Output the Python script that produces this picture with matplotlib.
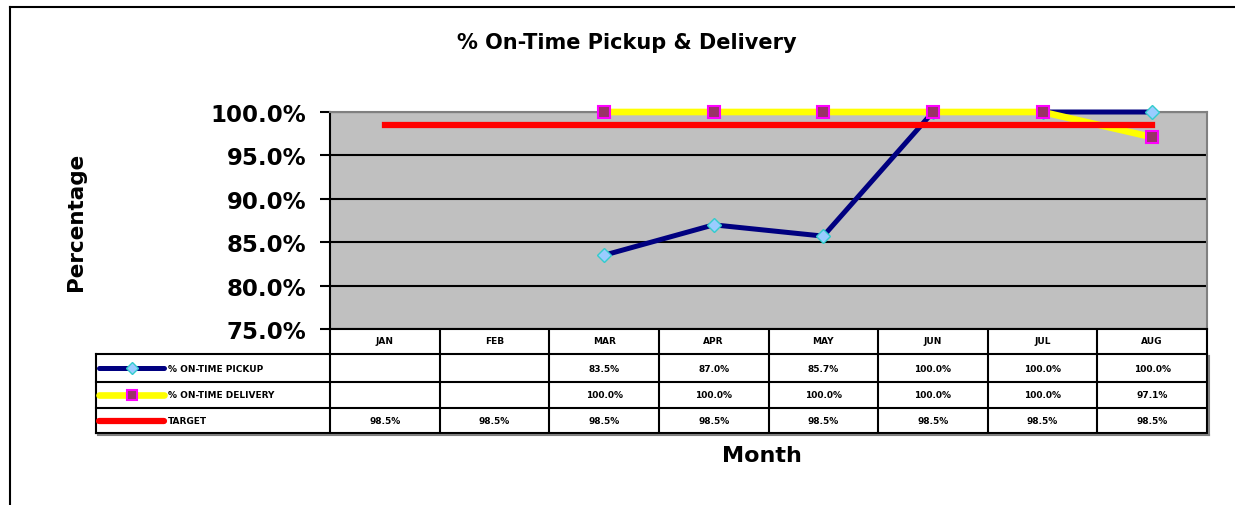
import matplotlib.pyplot as plt
from matplotlib.transforms import blended_transform_factory
import numpy as np

# ---------------------------------
# DATA
# ---------------------------------
months = ["JAN", "FEB", "MAR", "APR", "MAY", "JUN", "JUL", "AUG"]
pickup = [np.nan, np.nan, 83.5, 87.0, 85.7, 100.0, 100.0, 100.0]
delivery = [np.nan, np.nan, 100.0, 100.0, 100.0, 100.0, 100.0, 97.1]
target = [98.5, 98.5, 98.5, 98.5, 98.5, 98.5, 98.5, 98.5]
series_names = ["% ON-TIME PICKUP", "% ON-TIME DELIVERY", "TARGET"]

W, H = 1235, 506
fig = plt.figure(figsize=(W / 100, H / 100), dpi=100)

# overlay in pixel coords for the frame and the data table
ov = fig.add_axes([0, 0, 1, 1])
ov.set_xlim(0, W)
ov.set_ylim(H, 0)
ov.axis("off")

ax = fig.add_axes([330 / W, 1 - 330 / H, 877 / W, 217 / H])
ax.set_facecolor("#C0C0C0")

x = np.arange(len(months))
styles = [
    dict(color="#000080", lw=3.6, marker="D", ms=7, mfc="#99CCFF", mec="#33CCCC", mew=1, zorder=3),
    dict(color="#FFFF00", lw=4.8, marker="s", ms=8, mfc="#993366", mec="#FF00FF", mew=1.5, zorder=4),
    dict(color="#FF0000", lw=4.5, zorder=5, solid_capstyle="projecting"),
]
for vals, st in zip([pickup, delivery, target], styles):
    ax.plot(x, vals, clip_on=False, **st)

ax.set_xlim(-0.5, len(months) - 0.5)
ax.set_ylim(75, 100)
yt = np.arange(75, 100.1, 5)
ax.set_yticks(yt)
ax.set_yticklabels([f"{v:.1f}%" for v in yt], fontsize=16.5, fontweight="bold")
ax.set_xticks([])
ax.yaxis.grid(True, color="black", lw=1.5)
ax.set_axisbelow(True)
ax.tick_params(axis="y", length=7, width=1.5, pad=10)
for s in ["top", "right"]:
    ax.spines[s].set_color("#808080")
    ax.spines[s].set_linewidth(1.5)
for s in ["left", "bottom"]:
    ax.spines[s].set_linewidth(1.5)

# ---------------------------------
# DATA TABLE
# ---------------------------------
tr = blended_transform_factory(ax.transData, ov.transData)
right_px = ax.get_position().x1 * W
leg_left = 96
rows = [355, 383, 409, 434]
head_top = 330

for i in range(len(months) + 1):
    ov.plot([i - 0.5, i - 0.5], [head_top, rows[-1]], color="black", lw=1.5, transform=tr)
for i, m in enumerate(months):
    ov.text(i, 341, m, transform=tr, ha="center", va="center", fontsize=6.5, fontweight="bold")

for r in rows:
    ov.plot([leg_left, right_px], [r, r], color="black", lw=1.5)
ov.plot([leg_left, leg_left], [rows[0], rows[-1]], color="black", lw=1.5)
# shadow
ov.plot([leg_left + 2, right_px + 2], [rows[-1] + 2, rows[-1] + 2], color="#808080", lw=1.5)
ov.plot([right_px + 2, right_px + 2], [rows[0] + 2, rows[-1] + 2], color="#808080", lw=1.5)

for k, (name, vals, st) in enumerate(zip(series_names, [pickup, delivery, target], styles)):
    yc = (rows[k] + rows[k + 1]) / 2
    ov.plot([99, 164], [yc, yc], color=st["color"], lw=st["lw"], solid_capstyle="round")
    if "marker" in st:
        ov.plot([132], [yc], marker=st["marker"], ms=st["ms"] - 1, mfc=st["mfc"],
                mec=st["mec"], mew=st["mew"], ls="none")
    ov.text(168, yc, name, ha="left", va="center", fontsize=6.5, fontweight="bold")
    for i, v in enumerate(vals):
        if not np.isnan(v):
            ov.text(i, yc, f"{v:.1f}%", transform=tr, ha="center", va="center",
                    fontsize=6.5, fontweight="bold")

# outer frame
ov.plot([10, 10], [H, 8], color="black", lw=1.5)
ov.plot([10, W], [8, 8], color="black", lw=1.5)

ov.text(627, 43, "% On-Time Pickup & Delivery", ha="center", va="center",
        fontsize=15, fontweight="bold")
ov.text(76, 222, "Percentage", ha="center", va="center", rotation=90,
        fontsize=15.5, fontweight="bold")
ov.text(762, 456, "Month", ha="center", va="center", fontsize=16, fontweight="bold")

fig.savefig("out.png", dpi=100)
